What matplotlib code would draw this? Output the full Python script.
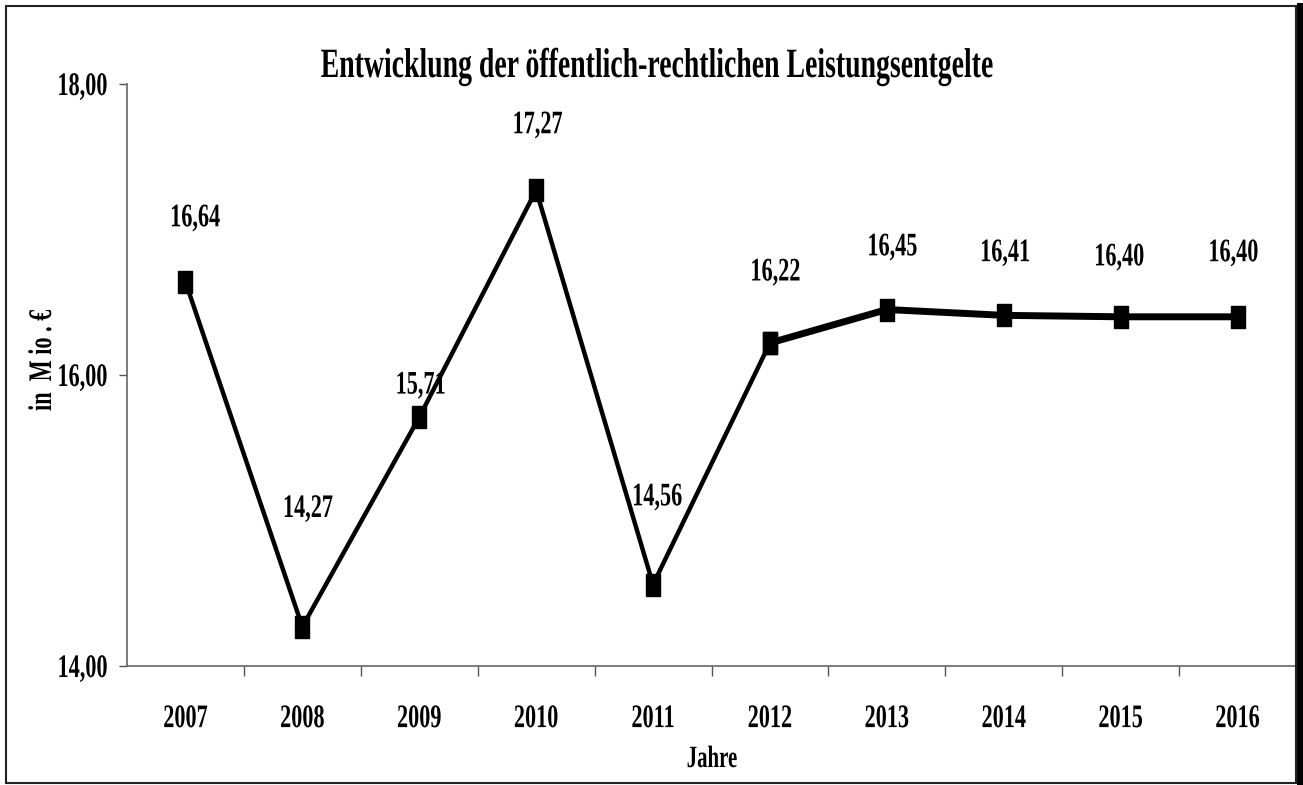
import numpy as np
import matplotlib
matplotlib.use('Agg')
import matplotlib.pyplot as plt
from matplotlib.patches import Rectangle
from matplotlib.lines import Line2D
from matplotlib.transforms import Affine2D, ScaledTranslation
from matplotlib.patheffects import AbstractPathEffect

# chart data
years = ['2007', '2008', '2009', '2010', '2011', '2012', '2013', '2014', '2015', '2016']
values = [16.64, 14.27, 15.71, 17.27, 14.56, 16.22, 16.45, 16.41, 16.40, 16.40]
value_labels = ['16,64', '14,27', '15,71', '17,27', '14,56', '16,22', '16,45', '16,41', '16,40', '16,40']
y_ticks = [14.0, 16.0, 18.0]
y_ticklabels = ['14,00', '16,00', '18,00']

# label offsets (points) roughly where Excel put them
label_dx = [7, 4, 1, 1, 3, 4, 4, 1, -1, -3]
label_dy = [40, 79, 17, 41, 57, 45, 39, 39, 37, 40]

# the original font is a narrow Times, stretch glyphs vertically to fake it
class Tall(AbstractPathEffect):
    def __init__(self, sy=1.48):
        super().__init__()
        self.sy = sy
    def draw_path(self, renderer, gc, tpath, affine, rgbFace=None):
        renderer.draw_path(gc, tpath, Affine2D().scale(1.0, self.sy) + affine, rgbFace)

tall = [Tall()]

plt.rcParams['font.family'] = ['Liberation Serif', 'DejaVu Serif']
plt.rcParams['font.weight'] = 'bold'

fig = plt.figure(figsize=(13.03, 7.85), dpi=100)
ax = fig.add_axes([127/1303, 1-666/785, (1296-127)/1303, (666-84)/785])

# tall narrow square marker like in Excel export
mk = [(-0.66, -1), (0.66, -1), (0.66, 1), (-0.66, 1), (-0.66, -1)]

x = np.arange(len(years))
ax.plot(x[:6], values[:6], color='black', lw=3.2, marker=mk, ms=16, solid_joinstyle='miter')
ax.plot(x[5:], values[5:], color='black', lw=5, marker=mk, ms=16, solid_joinstyle='miter')

for i in range(len(x)):
    ax.annotate(value_labels[i], (x[i], values[i]), xytext=(label_dx[i], label_dy[i]),
                textcoords='offset points', ha='center', va='baseline',
                fontsize=16, fontweight='bold', path_effects=tall)

ax.set_xlim(-0.5, len(years)-0.5)
ax.set_ylim(14, 18)
ax.set_yticks(y_ticks)
ax.set_yticklabels(y_ticklabels, fontsize=16, fontweight='bold', va='baseline')
ax.set_xticks(x)
ax.set_xticklabels(years, fontsize=16, fontweight='bold', va='baseline')
ax.set_xticks(np.arange(0.5, len(years)-1, 1.0), minor=True)
ax.tick_params(axis='x', which='major', length=0, pad=44)
ax.tick_params(axis='x', which='minor', length=7, width=1, color='#555555', direction='out')
ax.tick_params(axis='y', length=6, width=1, color='#555555', direction='out', pad=8)

for lab in ax.get_yticklabels():
    lab.set_path_effects(tall)
    lab.set_transform(lab.get_transform() + ScaledTranslation(0, -0.11, fig.dpi_scale_trans))
for lab in ax.get_xticklabels():
    lab.set_path_effects(tall)

for s in ['top', 'right']:
    ax.spines[s].set_visible(False)
for s in ['left', 'bottom']:
    ax.spines[s].set_color('#666666')
    ax.spines[s].set_linewidth(1.2)

# axis titles and chart title
fig.text(712/1303, 1-767/785, 'Jahre', ha='center', va='baseline',
         fontsize=15, fontweight='bold', path_effects=tall)
fig.text(51/1303, 1-360/785, 'in  M io . €', ha='center', va='baseline', rotation=90,
         rotation_mode='anchor', fontsize=16, fontweight='bold', path_effects=tall)
fig.text(657/1303, 1-77/785, 'Entwicklung der öffentlich-rechtlichen Leistungsentgelte',
         ha='center', va='baseline', fontsize=20, fontweight='bold', path_effects=[Tall(1.5)])

# outer frame
fig.patches.append(Rectangle((6/1303, 2/785), 1290/1303, 777/785, transform=fig.transFigure,
                             fill=False, edgecolor='#222222', lw=1.5))
fig.lines.append(Line2D([1299.5/1303, 1299.5/1303], [2/785, 779/785], transform=fig.transFigure,
                        color='black', lw=5))

fig.savefig('out.png', dpi=100)
